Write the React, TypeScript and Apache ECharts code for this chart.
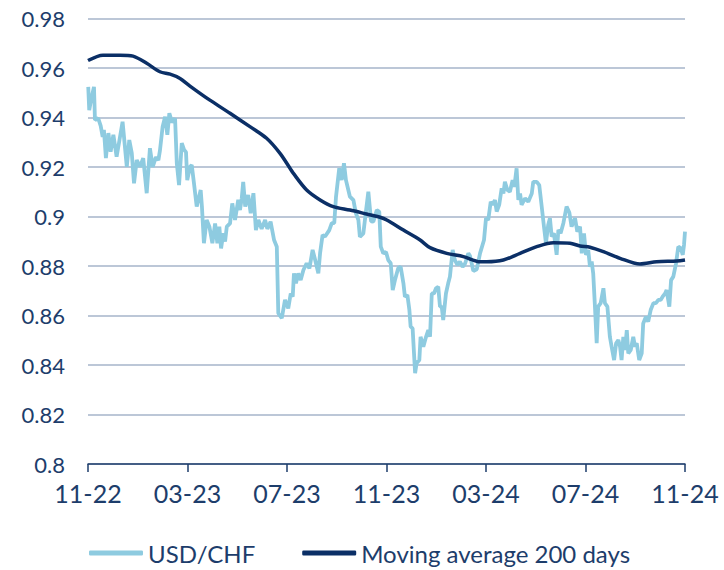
import React, { useEffect, useRef } from "react";
import * as echarts from "echarts";

// x values: months elapsed since 1 Nov 2022
const usdChfMonths = [
  0.01, 0.05, 0.12, 0.24, 0.28, 0.41, 0.51, 0.59, 0.64, 0.72, 0.82, 0.91, 1.02, 1.15, 1.25, 1.39,
  1.56, 1.66, 1.76, 1.85, 1.96, 2.09, 2.22, 2.36, 2.49, 2.6, 2.73, 2.83, 2.89, 3.0, 3.1, 3.19,
  3.27, 3.38, 3.5, 3.57, 3.66, 3.77, 3.86, 3.94, 3.99, 4.1, 4.17, 4.26, 4.37, 4.53, 4.58, 4.66,
  4.77, 4.88, 5.0, 5.11, 5.2, 5.28, 5.35, 5.44, 5.51, 5.58, 5.71, 5.8, 5.91, 6.04, 6.11, 6.18,
  6.24, 6.32, 6.44, 6.54, 6.65, 6.75, 6.85, 6.98, 7.12, 7.21, 7.34, 7.48, 7.59, 7.65, 7.79, 7.92,
  8.05, 8.15, 8.23, 8.28, 8.36, 8.45, 8.55, 8.66, 8.79, 8.9, 9.03, 9.13, 9.26, 9.33, 9.43, 9.53,
  9.7, 9.8, 9.9, 9.97, 10.1, 10.2, 10.29, 10.37, 10.53, 10.67, 10.77, 10.87, 10.93, 11.07, 11.18, 11.27,
  11.38, 11.47, 11.61, 11.71, 11.77, 11.87, 11.98, 12.07, 12.17, 12.25, 12.34, 12.47, 12.57, 12.68, 12.74, 12.84,
  12.92, 12.97, 13.05, 13.15, 13.21, 13.32, 13.37, 13.48, 13.59, 13.68, 13.75, 13.82, 13.91, 13.99, 14.08, 14.15,
  14.22, 14.28, 14.39, 14.48, 14.55, 14.66, 14.75, 14.85, 14.95, 15.06, 15.16, 15.29, 15.36, 15.49, 15.63, 15.76,
  15.92, 16.0, 16.09, 16.19, 16.27, 16.36, 16.43, 16.53, 16.63, 16.7, 16.76, 16.86, 16.96, 17.07, 17.14, 17.23,
  17.3, 17.37, 17.43, 17.57, 17.7, 17.84, 17.9, 18.04, 18.14, 18.24, 18.33, 18.41, 18.5, 18.57, 18.64, 18.73,
  18.84, 18.91, 19.0, 19.11, 19.24, 19.35, 19.44, 19.58, 19.67, 19.78, 19.85, 19.94, 20.02, 20.11, 20.18, 20.25,
  20.31, 20.38, 20.45, 20.51, 20.61, 20.72, 20.78, 20.88, 20.98, 21.05, 21.15, 21.23, 21.32, 21.39, 21.45, 21.52,
  21.59, 21.66, 21.72, 21.82, 21.92, 21.99, 22.06, 22.16, 22.26, 22.32, 22.43, 22.52, 22.62, 22.73, 22.83, 22.93,
  23.02, 23.1, 23.2, 23.26, 23.37, 23.44, 23.53, 23.64, 23.73, 23.83, 23.91, 23.96, 24.0,
];

const usdChfValues = [
  0.9524, 0.943, 0.947, 0.9524, 0.939, 0.9397, 0.9366, 0.9322, 0.935, 0.9236, 0.9337, 0.9262, 0.933, 0.9242, 0.93, 0.9383,
  0.9201, 0.9309, 0.9256, 0.9134, 0.9228, 0.9201, 0.9236, 0.9094, 0.9276, 0.92, 0.924, 0.9228, 0.9265, 0.9363, 0.9403, 0.933,
  0.9417, 0.938, 0.9397, 0.9215, 0.9127, 0.9296, 0.927, 0.926, 0.9147, 0.9201, 0.9208, 0.9134, 0.904, 0.9107, 0.904, 0.8892,
  0.8986, 0.8959, 0.8892, 0.8972, 0.8892, 0.8959, 0.8871, 0.8932, 0.8899, 0.8959, 0.8972, 0.9053, 0.8986, 0.9067, 0.9026, 0.9073,
  0.914, 0.904, 0.9087, 0.9013, 0.9094, 0.8945, 0.8986, 0.895, 0.8986, 0.895, 0.8979, 0.8905, 0.8878, 0.8609, 0.8589, 0.8663,
  0.8629, 0.8689, 0.8676, 0.877, 0.873, 0.877, 0.8743, 0.8784, 0.8811, 0.879, 0.8865, 0.8825, 0.877, 0.8852, 0.8925, 0.8919,
  0.8945, 0.8973, 0.8973, 0.908, 0.9195, 0.9147, 0.9215, 0.9147, 0.908, 0.9066, 0.9013, 0.8986, 0.8918, 0.8932, 0.9026, 0.91,
  0.898, 0.8979, 0.9026, 0.9019, 0.8878, 0.8851, 0.8857, 0.8824, 0.8811, 0.8703, 0.8743, 0.8791, 0.8797, 0.873, 0.8676, 0.8683,
  0.8622, 0.8555, 0.8548, 0.8367, 0.8407, 0.842, 0.8514, 0.8474, 0.8514, 0.8541, 0.8514, 0.8689, 0.8689, 0.871, 0.8716, 0.8636,
  0.8636, 0.8582, 0.8689, 0.873, 0.8757, 0.8865, 0.8824, 0.8804, 0.8818, 0.8797, 0.881, 0.8851, 0.884, 0.878, 0.8787, 0.8851,
  0.8905, 0.8993, 0.8986, 0.906, 0.9047, 0.9067, 0.902, 0.9047, 0.9114, 0.9093, 0.914, 0.9107, 0.91, 0.9147, 0.912, 0.9195,
  0.9067, 0.9093, 0.9047, 0.9073, 0.906, 0.9093, 0.914, 0.914, 0.9127, 0.904, 0.8959, 0.8892, 0.8966, 0.8993, 0.8919, 0.8932,
  0.8845, 0.8946, 0.8932, 0.8973, 0.904, 0.9016, 0.8959, 0.8993, 0.8939, 0.8959, 0.8851, 0.8932, 0.8845, 0.8865, 0.8797, 0.8818,
  0.877, 0.8636, 0.8488, 0.8636, 0.865, 0.871, 0.865, 0.8636, 0.8514, 0.8474, 0.842, 0.8488, 0.8501, 0.8474, 0.842, 0.8514,
  0.8461, 0.8541, 0.8447, 0.8461, 0.8514, 0.8474, 0.8488, 0.842, 0.8447, 0.8568, 0.8595, 0.8575, 0.8622, 0.865, 0.865, 0.8663,
  0.8663, 0.8676, 0.8689, 0.8703, 0.8636, 0.8743, 0.8757, 0.8811, 0.8878, 0.8872, 0.8845, 0.8885, 0.8939,
];

const maMonths = [
  0, 0.6, 1.29, 1.81, 2.36, 2.89, 3.3, 3.7, 4.1, 4.9, 5.71, 6.51, 7.18, 7.72, 8.12, 8.25,
  8.79, 9.33, 9.86, 10.53, 11.2, 11.74, 12.01, 12.68, 13.35, 13.75, 14.42, 15.09, 15.76, 16.03, 16.7, 17.37,
  18.04, 18.71, 19.38, 19.78, 20.18, 20.72, 21.39, 22.19, 22.86, 23.67, 24.0,
];

const maValues = [
  0.963, 0.9652, 0.9652, 0.9648, 0.9619, 0.9585, 0.9575, 0.9558, 0.9527, 0.947, 0.9417, 0.9363, 0.9316, 0.9255, 0.9195, 0.9175,
  0.9107, 0.9067, 0.904, 0.9026, 0.901, 0.8997, 0.8986, 0.8945, 0.8905, 0.8874, 0.8851, 0.8838, 0.8817, 0.8817, 0.8824, 0.8851,
  0.8878, 0.8894, 0.8892, 0.8881, 0.8876, 0.8858, 0.8831, 0.8808, 0.8817, 0.882, 0.8824,
];

const yMin = 0.8;
const yMax = 0.98;
const yStep = 0.02;
const xMonthsMax = 24;
const xLabelStep = 4;
const seriesNames = ["USD/CHF", "Moving average 200 days"];

const TEXT = "#1d3d6b";
const LIGHT = "#8ecbe0";
const DARK = "#0b2f66";
const FONT = "Lato";

function monthLabel(m: number): string {
  const total = 10 + Math.round(m); // Nov 2022 => index 10 within 2022
  const month = (total % 12) + 1;
  const year = 22 + Math.floor(total / 12);
  return String(month).padStart(2, "0") + "-" + String(year);
}

export default function App() {
  const ref = useRef<HTMLDivElement>(null);
  useEffect(() => {
    document.body.style.margin = "0";
    const chart = echarts.init(ref.current!, null, { renderer: "svg" });
    chart.setOption({
      animation: false,
      backgroundColor: "#ffffff",
      textStyle: { fontFamily: FONT },
      grid: { left: 88, top: 18.5, width: 597, height: 445.5, containLabel: false },
      legend: {
        left: 89,
        top: 540,
        padding: 0,
        itemWidth: 54,
        itemHeight: 5,
        itemGap: 47,
        icon: "roundRect",
        textStyle: { color: TEXT, fontSize: 24, lineHeight: 26, fontFamily: FONT, padding: [0, 0, 0, 0] },
        data: seriesNames,
      },
      xAxis: {
        type: "value",
        min: 0,
        max: xMonthsMax,
        interval: xLabelStep,
        axisLine: { show: true, lineStyle: { color: TEXT, width: 1.5 } },
        axisTick: { show: true, length: 8, lineStyle: { color: TEXT, width: 1.5 } },
        axisLabel: {
          color: TEXT,
          fontSize: 25,
          fontFamily: FONT,
          margin: 16,
          formatter: (v: number) => monthLabel(v),
        },
        splitLine: { show: false },
      },
      yAxis: {
        type: "value",
        min: yMin,
        max: yMax,
        interval: yStep,
        axisLine: { show: false },
        axisTick: { show: false },
        axisLabel: {
          color: TEXT,
          fontSize: 22,
          fontFamily: FONT,
          margin: 23,
          formatter: (v: number) => String(parseFloat(v.toFixed(2))),
        },
        splitLine: { show: true, lineStyle: { color: "#a6b5ca", width: 1.5 } },
      },
      series: [
        {
          name: seriesNames[0],
          type: "line",
          data: usdChfMonths.map((m, i) => [m, usdChfValues[i]]),
          showSymbol: false,
          symbol: "none",
          lineStyle: { color: LIGHT, width: 3.8 },
          itemStyle: { color: LIGHT },
          z: 2,
        },
        {
          name: seriesNames[1],
          type: "line",
          data: maMonths.map((m, i) => [m, maValues[i]]),
          showSymbol: false,
          symbol: "none",
          smooth: 0.3,
          lineStyle: { color: DARK, width: 3.5 },
          itemStyle: { color: DARK },
          z: 3,
        },
      ],
    });
    return () => chart.dispose();
  }, []);
  return <div ref={ref} style={{ width: 724, height: 570 }} />;
}
